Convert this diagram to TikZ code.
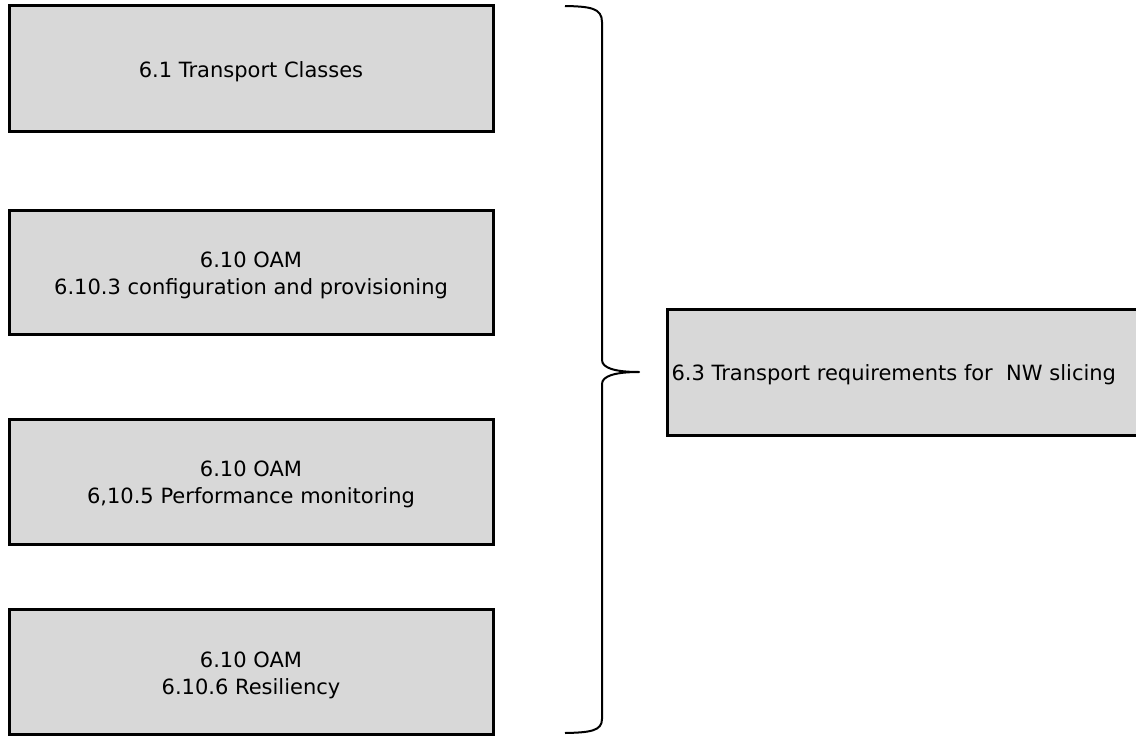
\documentclass[tikz,border=0pt]{standalone}
\usepackage{fontspec}
\setmainfont{DejaVu Sans}
\begin{document}
\begin{tikzpicture}[x=1pt,y=-1pt,
  box/.style={draw=black,line width=3pt,fill=boxgray,inner sep=0pt},
  lbl/.style={font=\fontsize{21}{27}\selectfont,align=center,yshift=-3pt},
  brace/.style={draw=black,line width=2pt}]
\definecolor{boxgray}{HTML}{D8D8D8}
\clip (0,0) rectangle (1136,736);
\useasboundingbox (0,0) rectangle (1136,736);
% left boxes
\node[box,minimum width=484pt,minimum height=126pt] (b1) at (251,68.5) {};
\node[lbl] (t1) at (b1.center) {6.1 Transport Classes};
\node[box,minimum width=484pt,minimum height=124pt] (b2) at (251,272.5) {};
\node[lbl] (t2) at (b2.center) {6.10 OAM\\6.10.3 configuration and provisioning};
\node[box,minimum width=484pt,minimum height=125pt] (b3) at (251,481.5) {};
\node[lbl] (t3) at (b3.center) {6.10 OAM\\6,10.5 Performance monitoring};
\node[box,minimum width=484pt,minimum height=125pt] (b4) at (251,672) {};
\node[lbl] (t4) at (b4.center) {6.10 OAM\\6.10.6 Resiliency};
% right box
\node[box,minimum width=480pt,minimum height=126pt] (r) at (907,372) {};
\node[lbl,anchor=west] (rt) at (668,372) {6.3 Transport requirements for \ NW slicing};
% brace
\coordinate (btop) at (565,6);
\coordinate (bbot) at (565,733);
\coordinate (tip) at (639,372);
\draw[brace,line join=round] (btop) .. controls (590,6.5) and (602,8) .. (602,22)
  -- (602,360) .. controls (602,368) and (615,372) .. (tip)
  .. controls (615,372) and (602,376) .. (602,384)
  -- (602,719) .. controls (602,731) and (590,732.5) .. (bbot);
\end{tikzpicture}
\end{document}
